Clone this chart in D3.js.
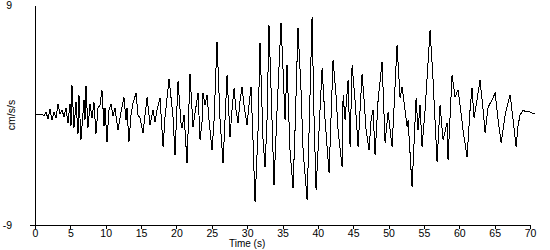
<!DOCTYPE html>
<html><head><meta charset="utf-8">
<script src="https://cdn.jsdelivr.net/npm/d3@7"></script>
<style>
body{margin:0;background:#fff;}
svg{display:block;font-family:"Liberation Sans",Arial,sans-serif;}
</style></head>
<body><svg id="c" width="550" height="250"></svg>
<script>
const xTicks = [0,5,10,15,20,25,30,35,40,45,50,55,60,65,70];
const yTicks = [-9, 9];
const xLabel = "Time (s)";
const yLabel = "cm/s/s";
const time = [0,0.99,1.27,1.56,1.84,2.12,2.40,2.69,2.97,3.25,3.53,3.82,4.10,4.38,4.67,4.95,5.09,5.23,5.51,5.80,6.08,6.22,6.50,6.93,7.07,7.21,7.49,7.78,8.06,8.34,8.62,8.91,9.19,9.47,9.76,9.90,10.18,10.46,10.75,11.03,11.31,11.74,12.16,12.58,12.87,13.01,13.29,13.57,13.87,14.29,14.57,
14.86,15.28,15.85,16.27,16.69,16.98,17.26,17.68,18.11,18.39,18.96,19.52,19.80,20.23,20.65,20.79,21.08,21.50,21.92,22.35,22.63,23.06,23.34,23.62,23.76,
24.05,24.33,24.61,25.04,25.32,25.74,26.17,26.59,26.87,27.16,27.58,27.86,28.15,28.43,28.71,29.00,29.28,29.56,29.98,30.27,30.55,30.83,31.12,31.54,31.82,32.25,32.53,32.81,33.09,33.52,33.80,34.23,34.79,35.08,35.36,35.64,36.06,36.49,36.77,37.19,37.62,37.91,38.48,38.76,39.18,39.47,39.75,40.03,40.60,41.02,41.59,42.15,42.57,42.86,43.43,43.57,43.85,44.27,44.56,44.84,45.26,45.69,45.97,46.25,46.54,46.82,47.24,47.53,47.81,48.09,48.52,49.08,49.51,49.93,50.50,51.20,51.63,51.91,52.33,52.62,52.76,53.32,53.89,54.17,54.45,54.74,55.16,55.87,56.29,56.86,57.28,57.71,58.27,58.41,58.98,59.40,59.82,60.11,60.53,61.10,61.52,61.80,62.09,62.51,62.93,63.37,63.65,64.07,64.64,65.07,65.49,65.92,66.48,67.19,67.61,68.04,68.32,68.60,69.02,69.45,69.73,70.30,70.70];
const accel = [0.08,0.08,-0.08,0.25,-0.33,0.49,-0.41,0.25,-0.25,0.90,0.08,0.41,-0.16,0.57,-0.65,0.90,-0.90,2.45,-1.06,1.06,-1.55,1.64,-2.05,1.23,-0.41,2.37,-1.06,0.90,-0.25,1.06,-1.55,0.57,0.82,2.05,-0.90,0.57,-2.21,0.41,0.90,-0.08,0.57,-1.23,0.25,1.47,-0.41,0.57,-2.21,0,0.98,1.80,0,
-0.25,-1.47,1.47,-0.82,0.41,-0.57,0.41,1.39,-2.62,-0.16,2.95,-0.16,-3.27,2.78,-0.65,-1.06,0,-3.93,3.35,-0.98,0.16,1.80,-2.05,-0.57,1.80,
0.82,1.64,-0.41,-2.86,-0.41,5.97,-0.41,-3.93,-0.41,3.27,-1.80,0.41,2.21,0.41,-0.65,1.23,2.29,0.82,-0.82,0.82,2.29,-2.05,-7.12,-1.23,5.89,-2.05,-4.26,-0.41,7.36,-0.41,-5.73,0.41,7.52,3.68,-0.41,4.09,-2.86,-5.97,-1.23,7.12,2.05,-2.86,-6.96,-1.23,8.02,-0.41,-6.14,-2.86,3.85,-0.41,-4.75,4.50,1.64,-1.23,-4.26,1.64,-0.41,2.86,-2.62,4.09,1.23,-2.62,0.41,3.35,1.23,-1.23,-2.86,-0.41,0.41,-3.27,1.23,4.34,-2.29,0.25,-2.62,5.73,1.39,2.29,0.41,-0.98,-0.41,-5.89,1.39,-1.23,0.82,-2.62,0.41,6.96,2.86,-3.85,0.82,-2.05,-0.65,-3.68,3.27,1.47,2.05,0.82,-1.23,-3.44,0.41,2.21,-0.25,1.23,2.86,0.41,-1.47,0.65,1.23,1.80,-0.41,-2.29,0,1.64,-0.41,-2.62,-0.82,0,0.41,0.25,0.33,0.16,0.08];

const svg = d3.select("#c");
const x = d3.scaleLinear().domain([0,70]).range([35,530]);
const y = d3.scaleLinear().domain([-9,9]).range([225,5]);

const pts = time.map((t,i)=>[t, accel[i]]);
svg.append("path")
  .datum(pts)
  .attr("fill","none")
  .attr("stroke","#000")
  .attr("stroke-width",1)
  .attr("shape-rendering","crispEdges")
  .attr("d", d3.line().x(d=>x(d[0])).y(d=>y(d[1])));

const fmt = d => String(d);
const gx = svg.append("g").attr("transform","translate(0,225)")
  .call(d3.axisBottom(x).tickValues(xTicks).tickSizeInner(4).tickSizeOuter(0).tickPadding(1).tickFormat(fmt));
const gy = svg.append("g").attr("transform","translate(35,0)")
  .call(d3.axisLeft(y).tickValues(yTicks).tickSizeInner(5).tickSizeOuter(0).tickPadding(18).tickFormat(fmt));
gy.selectAll(".tick").filter(d=>d===9).select("line").remove();
[gx,gy].forEach(g=>{
  g.selectAll("text").attr("font-size","10.5px").attr("font-family","'Liberation Sans',Arial,sans-serif").attr("fill","#000");
  g.selectAll("line,path").attr("stroke","#000").attr("shape-rendering","crispEdges");
});
svg.append("text").attr("x", x(30)).attr("y", 247)
  .attr("text-anchor","middle").attr("font-size","10px").text(xLabel);
svg.append("text").attr("transform",`translate(15,${y(0)}) rotate(-90)`)
  .attr("text-anchor","middle").attr("font-size","10.5px").text(yLabel);
</script></body></html>
